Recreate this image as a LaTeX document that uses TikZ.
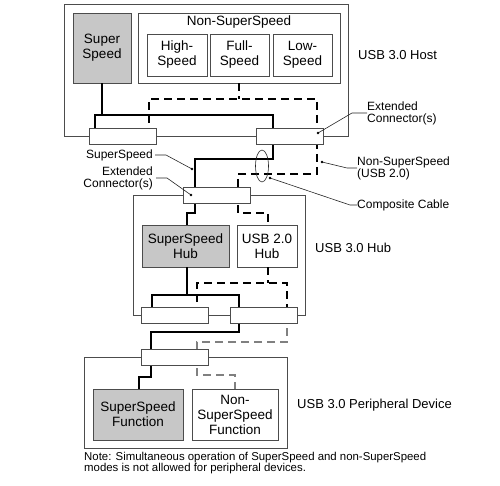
\documentclass[tikz,border=0pt]{standalone}
\usepackage{fontspec}
\setmainfont{Liberation Sans}

\begin{document}
\begin{tikzpicture}[x=1pt,y=-1pt,
  unit/.style={draw=black!70,line width=0.9pt,inner sep=0pt},
  blk/.style={unit,fill=white,align=center,font=\fontsize{13.5}{15}\selectfont},
  ssblk/.style={blk,fill=black!22},
  plug/.style={draw=black!70,line width=0.9pt,fill=white,minimum width=67pt,minimum height=16pt,inner sep=0pt},
  sswire/.style={line width=1.8pt},
  hswire/.style={line width=1.8pt,dash pattern=on 8pt off 5pt},
  lbl/.style={font=\fontsize{12}{12}\selectfont,inner sep=0pt},
  tag/.style={font=\fontsize{13}{15}\selectfont,inner sep=0pt,anchor=west},
  lead/.style={line width=0.6pt,black!85}]
\useasboundingbox (0,0) rectangle (500,486);
\node[unit,minimum width=284pt,minimum height=132pt](host)at(206,70){};
\node[unit,minimum width=172pt,minimum height=120pt](hub)at(219,255){};
\node[unit,minimum width=203pt,minimum height=91pt](dev)at(185.5,402.5){};
\node[ssblk,minimum width=58pt,minimum height=70pt](sshost)at(102,48){Super\\Speed};
\node[blk,minimum width=202pt,minimum height=70pt](nonss)at(239,48){};
\node[font=\fontsize{13.5}{15}\selectfont,inner sep=0pt](nonsslbl)at(239,22){Non-SuperSpeed};
\node[blk,minimum width=60pt,minimum height=42pt](hs)at(177,55){High-\\Speed};
\node[blk,minimum width=59pt,minimum height=42pt](fs)at(239.5,55){Full-\\Speed};
\node[blk,minimum width=59pt,minimum height=42pt](ls)at(302.5,55){Low-\\Speed};
\node[ssblk,minimum width=87pt,minimum height=42pt](sshub)at(185.5,246){SuperSpeed\\Hub};
\node[blk,minimum width=60pt,minimum height=42pt](usbhub)at(267,246){USB 2.0\\Hub};
\node[ssblk,minimum width=90pt,minimum height=51pt](ssfn)at(138,414.5){SuperSpeed\\Function};
\node[blk,minimum width=86pt,minimum height=51pt](nssfn)at(235,414.5){Non-\\SuperSpeed\\Function};
\draw[sswire](sshost.south)--++(0,32);
\draw[sswire](95,136)--(95,115)--(273,115)--(273,159)--(195,159)--(195,213)--(187,213)--(187,225);
\draw[hswire](nonss.south)--++(0,16);
\draw[hswire](149,136)--(149,99)--(317,99)--(317,174)--(238,174)--(238,213)--(268,213)--(268,225);
\draw[sswire](187,267)--(187,295);
\draw[sswire](152,315)--(152,295)--(239,295)--(239,332)--(151,332)--(151,377)--(139,377)--(139,389);
\draw[hswire](268,267)--(268,283);
\draw[hswire](197,315)--(197,283)--(287,283)--(287,315);
\draw[hswire,black!50](287,315)--(287,342)--(197,342)--(197,375)--(235,375)--(235,389);
\node[plug](hostL)at(122.5,136){};
\node[plug](hostR)at(289.5,136){};
\node[plug](hubU)at(216.5,195){};
\node[plug](hubL)at(175,315){};
\node[plug](hubR)at(263.5,315){};
\node[plug](devU)at(174.5,357){};
\draw[lead](262,166)ellipse[x radius=6.5pt,y radius=16pt];
\coordinate(pextR)at(318,133);
\coordinate(pnss)at(322,162);
\coordinate(pcab)at(270,178);
\coordinate(pss)at(192,169);
\coordinate(pextL)at(191,195);
\node[lbl,anchor=west,align=left](extR)at(367,113){Extended\\Connector(s)};
\node[lbl,anchor=west,align=left](nsslbl)at(357,168){Non-SuperSpeed\\(USB 2.0)};
\node[lbl,anchor=west](cable)at(357,205){Composite Cable};
\node[lbl,anchor=east](sslbl)at(153,155){SuperSpeed};
\node[lbl,anchor=east,align=right](extL)at(153,178){Extended\\Connector(s)};
\draw[lead](pextR)--(352,113)--(extR.west);
\draw[lead](pnss)--(347,168)--(nsslbl.west);
\draw[lead](pcab)--(350,205)--(cable.west);
\draw[lead](sslbl.east)++(2,0)--(166,155)--(pss);
\draw[lead](extL.east)++(3,0)--(167,178)--(pextL);
\foreach \p in {pextR,pnss,pcab,pss,pextL}\fill(\p)circle[radius=1.4pt];
\node[tag](hostlbl)at(358,55){USB 3.0 Host};
\node[tag](hublbl)at(315,248){USB 3.0 Hub};
\node[tag](devlbl)at(297,405){USB 3.0 Peripheral Device};
\node[font=\fontsize{11.4}{11}\selectfont,anchor=west,align=left,inner sep=0pt](note)at(84,463){Note: Simultaneous operation of SuperSpeed and non-SuperSpeed\\modes is not allowed for peripheral devices.};
\end{tikzpicture}
\end{document}
